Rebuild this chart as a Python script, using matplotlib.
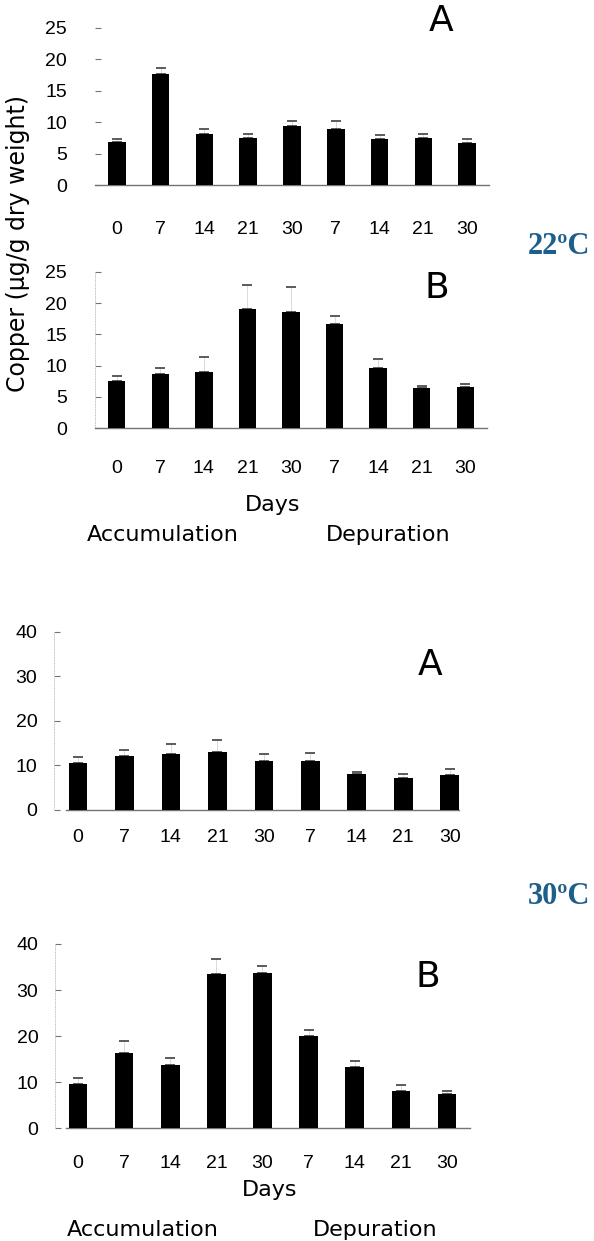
import matplotlib
matplotlib.use("Agg")
import matplotlib.pyplot as plt
import numpy as np

# sampling days (accumulation 0-30, then depuration 7-30)
days = ["0", "7", "14", "21", "30", "7", "14", "21", "30"]

# 22 C, panel A
cu22_a = [6.9, 17.6, 8.1, 7.5, 9.4, 8.9, 7.3, 7.5, 6.7]
se22_a = [0.4, 1.0, 0.8, 0.7, 0.8, 1.3, 0.7, 0.7, 0.7]
# 22 C, panel B
cu22_b = [7.55, 8.7, 9.0, 19.0, 18.6, 16.6, 9.6, 6.5, 6.6]
se22_b = [0.8, 0.9, 2.4, 3.9, 4.0, 1.3, 1.45, 0.3, 0.4]
# 30 C, panel A
cu30_a = [10.5, 12.2, 12.6, 13.0, 11.1, 11.1, 8.1, 7.2, 7.8]
se30_a = [1.5, 1.3, 2.1, 2.6, 1.5, 1.7, 0.5, 0.9, 1.3]
# 30 C, panel B
cu30_b = [9.55, 16.4, 13.7, 33.4, 33.6, 20.1, 13.2, 8.1, 7.45]
se30_b = [1.45, 2.6, 1.5, 3.3, 1.6, 1.2, 1.3, 1.2, 0.65]

W, H = 594, 1241
fig = plt.figure(figsize=(W / 100, H / 100), dpi=100)
plt.rcParams["font.family"] = ["Liberation Sans", "DejaVu Sans"]


def fx(px):
    return px / W


def fy(py):
    return 1 - py / H


def panel(left, right, top, bottom, xlim, ylim, yticks, vals, errs,
          spine_bounds, xpad, ypad, show_left):
    ax = fig.add_axes([fx(left), fy(bottom), fx(right - left),
                       (bottom - top) / H])
    x = np.arange(len(vals))
    ax.bar(x, vals, width=0.4, color="black", zorder=3)
    eb = ax.errorbar(x, vals, yerr=[np.zeros(len(vals)), errs], fmt="none",
                     ecolor="0.75", elinewidth=0.4, capsize=3.5, capthick=1.2,
                     zorder=2)
    for cap in eb[1]:
        cap.set_markeredgecolor("0.25")
    ax.set_xlim(*xlim)
    ax.set_ylim(*ylim)
    ax.set_yticks(yticks)
    ax.set_xticks(x)
    ax.set_xticklabels(days)
    for s in ["top", "right"]:
        ax.spines[s].set_visible(False)
    ax.spines["bottom"].set_color("0.45")
    ax.spines["bottom"].set_linewidth(1.0)
    ax.spines["bottom"].set_bounds(*spine_bounds)
    if show_left:
        ax.spines["left"].set_color("0.8")
        ax.spines["left"].set_linestyle(":")
        ax.spines["left"].set_linewidth(0.7)
    else:
        ax.spines["left"].set_visible(False)
    ax.tick_params(axis="x", length=0, pad=xpad, labelsize=14)
    ax.tick_params(axis="y", direction="in", length=4, width=0.8,
                   color="0.45", pad=ypad, labelsize=14)
    ax.patch.set_alpha(0)
    return ax


panel(95, 489, 28, 185, (-0.5, 8.5), (0, 25), [0, 5, 10, 15, 20, 25],
      cu22_a, se22_a, (-0.5, 8.5), 26, 20, False)
panel(95, 487, 271.7, 428.3, (-0.5, 8.5), (0, 25), [0, 5, 10, 15, 20, 25],
      cu22_b, se22_b, (-0.5, 8.5), 23, 20, True)
panel(54, 459, 631.7, 810, (-0.516, 8.2), (0, 40), [0, 10, 20, 30, 40],
      cu30_a, se30_a, (-0.26, 8.2), 14, 12, True)
panel(55, 470, 944, 1128.3, (-0.5, 8.5), (0, 40), [0, 10, 20, 30, 40],
      cu30_b, se30_b, (-0.26, 8.5), 19, 12, True)

# panel letters
for px, py, s in [(441, 21, "A"), (437, 288, "B"), (430, 665, "A"),
                  (428, 977, "B")]:
    fig.text(fx(px), fy(py), s, fontsize=26, family="DejaVu Sans",
             ha="center", va="center")

# temperature labels
for py, s in [(247, "22ºC"), (897, "30ºC")]:
    fig.text(fx(590), fy(py), s, fontsize=22, family="Liberation Serif",
             fontweight="bold", color="#1c5f8a", ha="right", va="center")

# axis titles and phase labels
fig.text(fx(18), fy(244), "Copper (µg/g dry weight)", fontsize=17,
         family="DejaVu Sans", rotation=90, ha="center", va="center")
fig.text(fx(273), fy(505), "Days", fontsize=16, family="DejaVu Sans",
         ha="center", va="center")
fig.text(fx(270), fy(1190), "Days", fontsize=16, family="DejaVu Sans",
         ha="center", va="center")
fig.text(fx(163), fy(535), "Accumulation", fontsize=16, family="DejaVu Sans",
         ha="center", va="center")
fig.text(fx(388), fy(535), "Depuration", fontsize=16, family="DejaVu Sans",
         ha="center", va="center")
fig.text(fx(143), fy(1230), "Accumulation", fontsize=16, family="DejaVu Sans",
         ha="center", va="center")
fig.text(fx(375), fy(1230), "Depuration", fontsize=16, family="DejaVu Sans",
         ha="center", va="center")

fig.savefig("out.png", dpi=100)
